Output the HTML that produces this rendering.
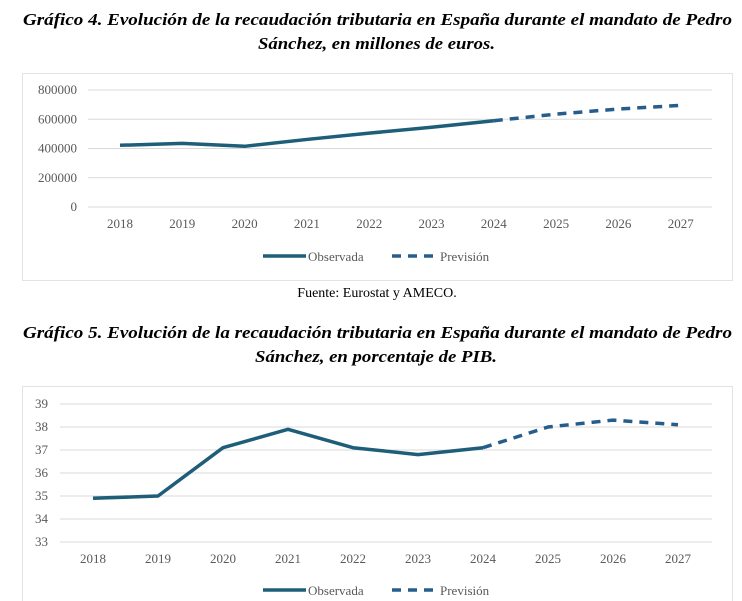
<!DOCTYPE html>
<html><head><meta charset="utf-8"><style>
html,body{margin:0;padding:0;background:#fff;width:742px;height:601px;overflow:hidden}
svg text{font-family:"Liberation Serif",serif}
</style></head><body>
<svg id="root" width="742" height="601" viewBox="0 0 742 601" xmlns="http://www.w3.org/2000/svg">
<g font-weight="bold" font-style="italic" font-size="17" fill="#000">
<text x="23" y="25" textLength="709" lengthAdjust="spacingAndGlyphs">Gráfico 4. Evolución de la recaudación tributaria en España durante el mandato de Pedro</text>
<text x="258" y="49" textLength="237" lengthAdjust="spacingAndGlyphs">Sánchez, en millones de euros.</text>
</g>
<rect x="22.5" y="73.5" width="710" height="207" fill="none" stroke="#e3e3e3"/>
<g id="c1"></g>
<text x="377" y="297" text-anchor="middle" font-size="14">Fuente: Eurostat y AMECO.</text>
<g font-weight="bold" font-style="italic" font-size="17" fill="#000">
<text x="23" y="338" textLength="709" lengthAdjust="spacingAndGlyphs">Gráfico 5. Evolución de la recaudación tributaria en España durante el mandato de Pedro</text>
<text x="255" y="362" textLength="242" lengthAdjust="spacingAndGlyphs">Sánchez, en porcentaje de PIB.</text>
</g>
<rect x="22.5" y="386.5" width="710" height="230" fill="none" stroke="#e3e3e3"/>
<g id="c2"></g>
</svg>
<script>
const years = ["2018","2019","2020","2021","2022","2023","2024","2025","2026","2027"];
const revenueObserved = [422000,435000,415000,462000,505000,545000,590000,null,null,null];
const revenueForecast = [null,null,null,null,null,null,590000,635000,670000,695000];
const revenueTicks = [0,200000,400000,600000,800000];
const pibObserved = [34.9,35.0,37.1,37.9,37.1,36.8,37.1,null,null,null];
const pibForecast = [null,null,null,null,null,null,37.1,38.0,38.3,38.1];
const pibTicks = [33,34,35,36,37,38,39];
const NS="http://www.w3.org/2000/svg";
function mk(tag,attrs,parent){const e=document.createElementNS(NS,tag);for(const k in attrs)e.setAttribute(k,attrs[k]);parent.appendChild(e);return e;}
function draw(g,o){
  const y=v=>o.y0+(v-o.vmin)/(o.vmax-o.vmin)*(o.y1-o.y0);
  const x=i=>o.xs+i*o.step;
  o.ticks.forEach(t=>{
    const l=mk('line',{x1:o.gx0,x2:o.gx1,y1:y(t),y2:y(t),stroke:'#d9d9d9','stroke-width':1},g);
    
    
    const tx=mk('text',{x:o.lx,y:y(t)+4,'text-anchor':'end','font-size':13,fill:'#595959'},g);
    
    
    tx.textContent=t;
  });
  years.forEach((c,i)=>{
    const tx=mk('text',{x:x(i),y:o.xly,'text-anchor':'middle','font-size':13,fill:'#595959'},g);
    
    
    tx.textContent=c;
  });
  function path(arr,dash,col){
    let pts=[];arr.forEach((v,i)=>{if(v!==null)pts.push([x(i),y(v)]);});
    const p=mk('path',{d:'M'+pts.map(p=>p.join(',')).join('L'),fill:'none',stroke:col,'stroke-width':3.5,'stroke-linejoin':'round'},g);
    if(dash)p.setAttribute('stroke-dasharray','9,7');
    return p;
  }
  const f=path(o.fc,true,'#275d8b');
  
  
  const ob=path(o.ob,false,'#1e5e79');
  
  
  const ly=o.legy;
  const l1=mk('line',{x1:263,x2:306,y1:ly,y2:ly,stroke:'#1e5e79','stroke-width':3.5},g);
  
  
  const t1=mk('text',{x:308,y:ly+5,'font-size':13,fill:'#595959'},g);
  
  
  t1.textContent='Observada';
  const l2=mk('line',{x1:392,x2:434,y1:ly,y2:ly,stroke:'#275d8b','stroke-width':3.5,'stroke-dasharray':'9,7'},g);
  
  
  const t2=mk('text',{x:440,y:ly+5,'font-size':13,fill:'#595959'},g);
  
  
  t2.textContent='Previsión';
}
draw(document.getElementById('c1'),{vmin:0,vmax:800000,y0:207,y1:90,xs:120,step:62.3,gx0:88,gx1:712,lx:77,xly:228,ticks:revenueTicks,ob:revenueObserved,fc:revenueForecast,legy:256});
draw(document.getElementById('c2'),{vmin:33,vmax:39,y0:542,y1:404,xs:93,step:65,gx0:60,gx1:712,lx:48,xly:563,ticks:pibTicks,ob:pibObserved,fc:pibForecast,legy:590});
</script>
</body></html>
